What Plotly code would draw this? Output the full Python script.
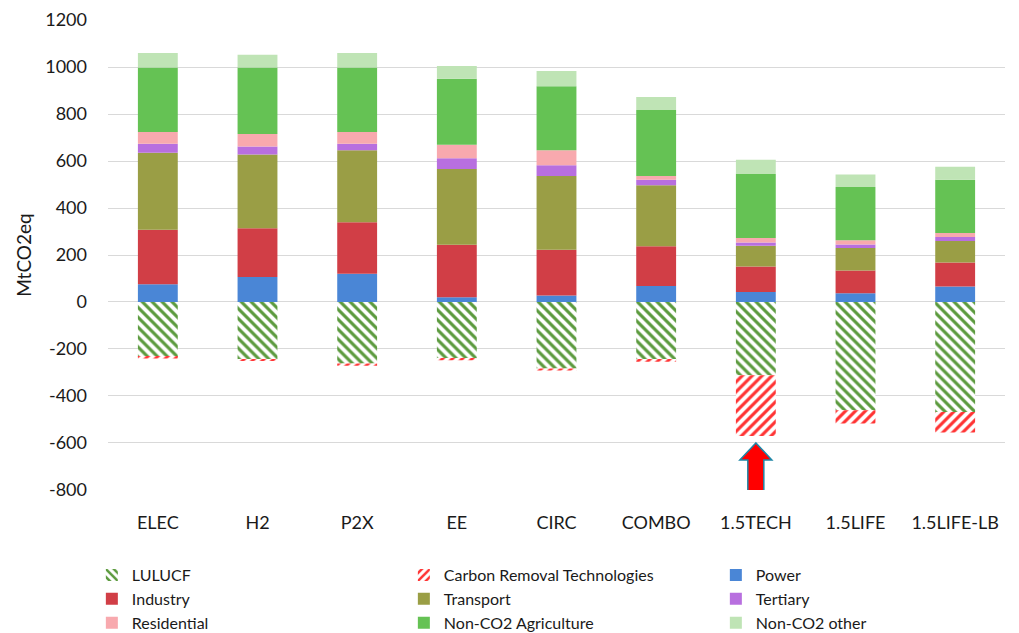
import plotly.graph_objects as go

scenarios = ["ELEC", "H2", "P2X", "EE", "CIRC", "COMBO", "1.5TECH", "1.5LIFE", "1.5LIFE-LB"]

lulucf = [-233, -244, -262, -241, -283, -247, -312, -461, -468]
carbon_removal = [-8, -7, -10, -7, -9, -8, -259, -56, -88]
power = [75, 106, 120, 20, 28, 68, 42, 37, 66]
industry = [232, 208, 219, 224, 194, 169, 109, 97, 102]
transport = [328, 314, 307, 322, 314, 260, 88, 96, 92]
tertiary = [39, 34, 28, 46, 46, 23, 14, 15, 17]
residential = [50, 53, 50, 57, 64, 16, 19, 18, 17]
nonco2_agri = [274, 283, 274, 281, 272, 281, 273, 226, 226]
nonco2_other = [62, 55, 62, 55, 65, 56, 60, 54, 56]

y_ticks = [-800, -600, -400, -200, 0, 200, 400, 600, 800, 1000, 1200]
y_tick_labels = [str(v) for v in y_ticks]
arrow_target = "1.5TECH"
arrow_tip_value = -600

FONT = "Lato, 'Open Sans', sans-serif"
TXT = "#1a1a1a"

fig = go.Figure()

solid = [
    ("Power", power, "#4a86d6"),
    ("Industry", industry, "#d13e46"),
    ("Transport", transport, "#9a9e45"),
    ("Tertiary", tertiary, "#b86fdf"),
    ("Residential", residential, "#f8a9ae"),
    ("Non-CO2 Agriculture", nonco2_agri, "#65c254"),
    ("Non-CO2 other", nonco2_other, "#bfe4b5"),
]

fig.add_trace(go.Bar(
    name="LULUCF", x=scenarios, y=lulucf,
    marker=dict(color="white", line=dict(width=0),
                pattern=dict(shape="\\", fgcolor="#5b9a3d", bgcolor="white",
                             size=7, solidity=0.45, fillmode="replace")),
))
fig.add_trace(go.Bar(
    name="Carbon Removal Technologies", x=scenarios, y=carbon_removal,
    marker=dict(color="white", line=dict(width=0),
                pattern=dict(shape="/", fgcolor="#ff3333", bgcolor="white",
                             size=7, solidity=0.45, fillmode="replace")),
))
for name, vals, col in solid:
    fig.add_trace(go.Bar(name=name, x=scenarios, y=vals,
                         marker=dict(color=col, line=dict(width=0))))

# block arrow pointing at the 1.5TECH carbon removal bar (pixel-sized, anchored in data)
arrow_path = "M 0 0 L -16 -17 L -8 -17 L -8 -64 L 8 -64 L 8 -17 L 16 -17 Z"
fig.add_shape(type="path", xref="x", yref="y",
              xsizemode="pixel", ysizemode="pixel",
              xanchor=scenarios.index(arrow_target), yanchor=arrow_tip_value,
              path=arrow_path, fillcolor="#ff0000",
              line=dict(color="#1f86a6", width=1.5), layer="above")

# page body adds an 8px margin, so the figure is sized 8px smaller
fig.update_layout(
    width=1011, height=625,
    barmode="relative", bargap=0.6,
    plot_bgcolor="white", paper_bgcolor="white",
    margin=dict(l=100, r=14, t=12, b=143, autoexpand=False),
    font=dict(family=FONT, size=18, color=TXT),
    xaxis=dict(showline=False, showgrid=False, ticks="", tickfont=dict(size=18, color=TXT),
               ticklabelstandoff=20, automargin=False),
    yaxis=dict(range=[-800.5, 1200.5], tickvals=y_ticks, ticktext=y_tick_labels,
               showgrid=True, gridcolor="#d9d9d9",
               gridwidth=1, zeroline=True, zerolinecolor="#d9d9d9", zerolinewidth=1,
               showline=False, ticks="", tickfont=dict(size=18, color=TXT),
               ticklabelstandoff=20, automargin=False, ticklabeloverflow="allow",
               title=dict(text="MtCO2eq", font=dict(size=19, color=TXT), standoff=8)),
    legend=dict(orientation="h", x=-0.018, xanchor="left", y=-0.145, yanchor="top",
                entrywidth=267, entrywidthmode="pixels", traceorder="normal",
                font=dict(size=16, color=TXT), itemwidth=30, tracegroupgap=0),
    showlegend=True,
)

fig.write_html("out.html")
